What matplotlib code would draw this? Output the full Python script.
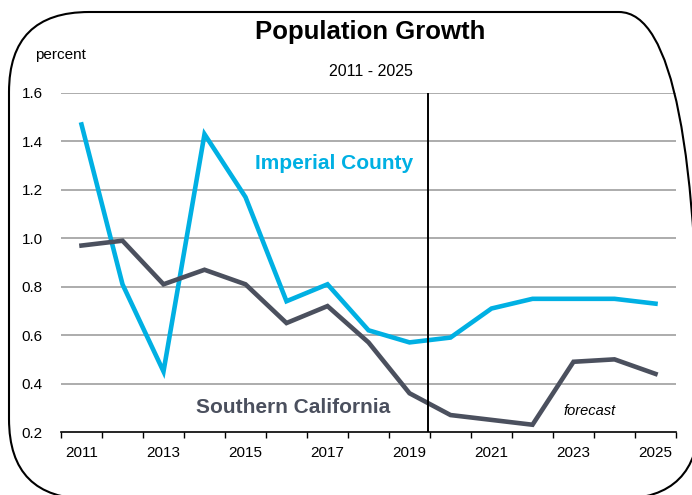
import matplotlib
matplotlib.use("Agg")
import matplotlib.pyplot as plt
from matplotlib.patches import FancyBboxPatch
from matplotlib.transforms import IdentityTransform
from matplotlib.ticker import FixedLocator

years = list(range(2011, 2026))
imperial = [1.47, 0.81, 0.45, 1.43, 1.17, 0.74, 0.81, 0.62, 0.57, 0.59, 0.71, 0.75, 0.75, 0.75, 0.73]
socal = [0.97, 0.99, 0.81, 0.87, 0.81, 0.65, 0.72, 0.57, 0.36, 0.27, 0.25, 0.23, 0.49, 0.50, 0.44]
yticks = [0.2, 0.4, 0.6, 0.8, 1.0, 1.2, 1.4, 1.6]
xlabels = [str(y) if y % 2 == 1 else "" for y in years]

CYAN = "#00B0E3"
GRAY = "#4B505E"
plt.rcParams["font.family"] = ["Liberation Sans", "DejaVu Sans"]

fig = plt.figure(figsize=(6.92, 4.95), dpi=100)
W, H = 692, 495
ax = fig.add_axes([61 / W, 1 - 432 / H, (676 - 61) / W, (432 - 93) / H])

x = list(range(len(years)))
ax.plot(x, imperial, color=CYAN, lw=3.3, solid_joinstyle="miter", zorder=3)
ax.plot(x, socal, color=GRAY, lw=3.3, solid_joinstyle="miter", zorder=3)

ax.set_xlim(-0.5, len(years) - 0.5)
ax.set_ylim(0.2, 1.6)
ax.set_yticks(yticks)
ax.set_yticklabels([f"{v:.1f}" for v in yticks], fontsize=11)
ax.tick_params(axis="y", length=0, pad=13)
ax.set_xticks(x)
ax.set_xticklabels(xlabels, fontsize=11)
ax.tick_params(axis="x", which="major", length=0, pad=10)
ax.xaxis.set_minor_locator(FixedLocator([i - 0.5 for i in range(len(years) + 1)]))
ax.tick_params(axis="x", which="minor", length=4, width=1, color="black", direction="out")

for v in yticks[1:]:
    ax.axhline(v, color="#A6A6A6", lw=1.3, zorder=1)
for s in ["left", "right", "top"]:
    ax.spines[s].set_visible(False)
ax.spines["bottom"].set_color("black")
ax.spines["bottom"].set_linewidth(1.2)

ax.axvline(8.45, color="black", lw=1.4, zorder=4)

ax.text(4.23, 1.31, "Imperial County", color=CYAN, fontsize=15, fontweight="bold", ha="left", va="center")
ax.text(2.79, 0.30, "Southern California", color=GRAY, fontsize=15, fontweight="bold", ha="left", va="center")
ax.text(12.4, 0.287, "forecast", fontsize=10.5, style="italic", ha="center", va="center")

fig.text(370 / W, 1 - 32 / H, "Population Growth", fontsize=18.5, fontweight="bold", ha="center", va="center")
fig.text(371 / W, 1 - 72 / H, "2011 - 2025", fontsize=11.5, ha="center", va="center")
fig.text(35 / W, 1 - 55 / H, "percent", fontsize=11, ha="left", va="center")

border = FancyBboxPatch((9, H - 499), 690, 499 - 12,
                        boxstyle="round,pad=0,rounding_size=80",
                        transform=IdentityTransform(), fill=False,
                        edgecolor="black", lw=1.5, zorder=0)
fig.patches.append(border)

fig.savefig("out.png", dpi=100)
